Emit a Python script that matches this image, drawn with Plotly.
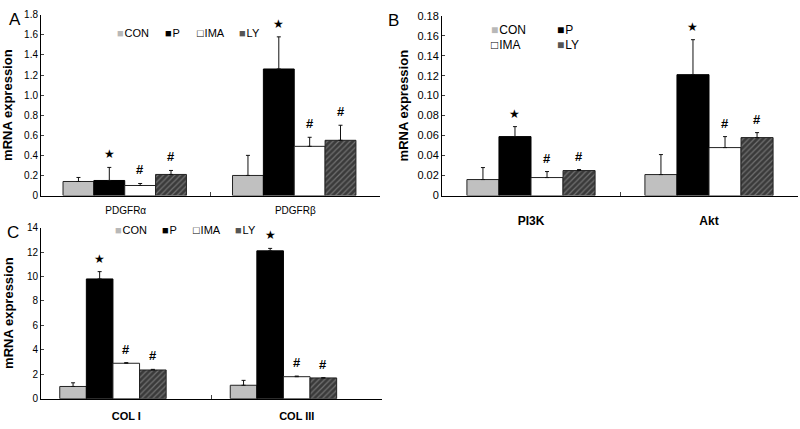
import plotly.graph_objects as go

series = ["CON", "P", "IMA", "LY"]

# Panel A
a_cats = ["PDGFRα", "PDGFRβ"]
a_vals = {"CON": [0.14, 0.20], "P": [0.15, 1.26], "IMA": [0.10, 0.49], "LY": [0.21, 0.55]}
a_top = {"CON": [0.18, 0.40], "P": [0.28, 1.58], "IMA": [0.12, 0.58], "LY": [0.25, 0.70]}
a_marks = {"CON": ["", ""], "P": ["★", "★"], "IMA": ["#", "#"], "LY": ["#", "#"]}
a_ticks = [0, 0.2, 0.4, 0.6, 0.8, 1.0, 1.2, 1.4, 1.6, 1.8]
a_ticktext = ["0", "0.2", "0.4", "0.6", "0.8", "1.0", "1.2", "1.4", "1.6", "1.8"]

# Panel B
b_cats = ["PI3K", "Akt"]
b_vals = {"CON": [0.016, 0.021], "P": [0.059, 0.121], "IMA": [0.018, 0.048], "LY": [0.025, 0.058]}
b_top = {"CON": [0.028, 0.041], "P": [0.069, 0.156], "IMA": [0.024, 0.059], "LY": [0.026, 0.063]}
b_marks = {"CON": ["", ""], "P": ["★", "★"], "IMA": ["#", "#"], "LY": ["#", "#"]}
b_ticks = [0, 0.02, 0.04, 0.06, 0.08, 0.10, 0.12, 0.14, 0.16, 0.18]
b_ticktext = ["0", "0.02", "0.04", "0.06", "0.08", "0.10", "0.12", "0.14", "0.16", "0.18"]

# Panel C
c_cats = ["COL I", "COL III"]
c_vals = {"CON": [1.0, 1.1], "P": [9.8, 12.1], "IMA": [2.9, 1.8], "LY": [2.35, 1.7]}
c_top = {"CON": [1.3, 1.5], "P": [10.4, 12.3], "IMA": [2.95, 1.85], "LY": [2.4, 1.72]}
c_marks = {"CON": ["", ""], "P": ["★", "★"], "IMA": ["#", "#"], "LY": ["#", "#"]}
c_ticks = [0, 2, 4, 6, 8, 10, 12, 14]
c_ticktext = ["0", "2", "4", "6", "8", "10", "12", "14"]

styles = {
    "CON": dict(color="#c0c0c0", line=dict(color="#222", width=1)),
    "P": dict(color="#000000", line=dict(color="#000", width=1)),
    "IMA": dict(color="#ffffff", line=dict(color="#222", width=1)),
    "LY": dict(color="#3c3c3c", line=dict(color="#222", width=1),
               pattern=dict(shape="/", bgcolor="#3a3a3a", fgcolor="#a8a8a8", size=4, solidity=0.3)),
}
legend_glyph = {"CON": ("■", "#b8b8b8"), "P": ("■", "#000"), "IMA": ("□", "#000"), "LY": ("■", "#555")}

FONT = "Liberation Sans, Arial, sans-serif"
fig = go.Figure()

panels = [
    dict(cats=a_cats, vals=a_vals, top=a_top, marks=a_marks, xa="x", ya="y",
         width=0.182, start=-0.37,
         legend_pos={"CON": (115, 28), "P": (163, 28), "IMA": (195, 28), "LY": (237, 28)}, lsize=11),
    dict(cats=b_cats, vals=b_vals, top=b_top, marks=b_marks, xa="x2", ya="y2",
         width=0.18, start=-0.36,
         legend_pos={"CON": (489, 25), "P": (555, 25), "IMA": (489, 40), "LY": (555, 40)}, lsize=12),
    dict(cats=c_cats, vals=c_vals, top=c_top, marks=c_marks, xa="x3", ya="y3",
         width=0.156, start=-0.39,
         legend_pos={"CON": (113, 230), "P": (160, 230), "IMA": (191, 230), "LY": (233, 230)}, lsize=11),
]

annotations = []
for p in panels:
    for i, s in enumerate(series):
        err = [t - v for t, v in zip(p["top"][s], p["vals"][s])]
        off = p["start"] + i * p["width"]
        fig.add_trace(go.Bar(
            x=p["cats"], y=p["vals"][s], name=s,
            xaxis=p["xa"], yaxis=p["ya"],
            width=p["width"], offset=off,
            marker=styles[s],
            error_y=dict(type="data", array=err, arrayminus=[0] * len(err), symmetric=False,
                         color="#111", thickness=1, width=2),
            showlegend=False,
        ))
        for j, m in enumerate(p["marks"][s]):
            if m:
                annotations.append(dict(
                    x=j + off + p["width"] / 2, y=p["top"][s][j], xref=p["xa"], yref=p["ya"],
                    text=m, showarrow=False, yanchor="bottom", yshift=4,
                    font=dict(family=FONT if m == "#" else "DejaVu Sans", size=13 if m == "#" else 12,
                              color="#000", weight="bold" if m == "#" else "normal"),
                ))
        # legend entry
        g, c = legend_glyph[s]
        lx, ly = p["legend_pos"][s]
        annotations.append(dict(
            x=lx / 800, y=1 - ly / 429, xref="paper", yref="paper", xanchor="left", yanchor="middle",
            showarrow=False, text=f'<span style="color:{c}">{g}</span>\u200a{s}',
            font=dict(family=FONT, size=p["lsize"], color="#000"),
        ))


def yaxis(domain, rng, tv, tt, standoff, tsize):
    return dict(domain=domain, range=rng, tickvals=tv, ticktext=tt, ticks="inside", ticklen=3,
                showline=True, linecolor="#000", linewidth=1, showgrid=False, zeroline=False,
                tickfont=dict(family=FONT, size=tsize, color="#000"),
                title=dict(text="mRNA expression",
                           font=dict(family=FONT, size=13, color="#000", weight="bold"),
                           standoff=standoff),
                fixedrange=True)


def xaxis(domain, anchor, size, bold, standoff):
    return dict(domain=domain, anchor=anchor, type="category", tickson="boundaries", ticks="inside",
                ticklen=4, showline=True, linecolor="#000", linewidth=1, showgrid=False,
                tickfont=dict(family=FONT, size=size, color="#000", weight="bold" if bold else "normal"),
                ticklabelstandoff=standoff, range=[-0.5, 1.5], fixedrange=True)


fig.update_layout(
    width=800, height=429, margin=dict(l=0, r=0, t=0, b=0),
    paper_bgcolor="white", plot_bgcolor="white",
    barmode="overlay", showlegend=False,
    xaxis=xaxis([41 / 800, 380 / 800], "y", 10, False, 5),
    yaxis=yaxis([1 - 195 / 429, 1 - 9 / 429], [0, 1.8], a_ticks, a_ticktext, 9, 10),
    xaxis2=xaxis([442 / 800, 798 / 800], "y2", 12, True, 14),
    yaxis2=dict(yaxis([1 - 195 / 429, 1 - 10 / 429], [0, 0.18], b_ticks, b_ticktext, 5, 11), anchor="x2"),
    xaxis3=xaxis([41 / 800, 382 / 800], "y3", 11, True, 7),
    yaxis3=dict(yaxis([1 - 404 / 429, 1 - 228 / 429], [0, 14], c_ticks, c_ticktext, 10, 10), anchor="x3"),
    annotations=annotations + [
        dict(text="A", x=7 / 800, y=1 - 2 / 429, xref="paper", yref="paper", xanchor="left", yanchor="top",
             showarrow=False, font=dict(family=FONT, size=17, color="#000")),
        dict(text="B", x=386 / 800, y=1 - 3 / 429, xref="paper", yref="paper", xanchor="left", yanchor="top",
             showarrow=False, font=dict(family=FONT, size=17, color="#000")),
        dict(text="C", x=5 / 800, y=1 - 221 / 429, xref="paper", yref="paper", xanchor="left", yanchor="top",
             showarrow=False, font=dict(family=FONT, size=17, color="#000")),
    ],
)

fig.write_html("out.html", config={"displayModeBar": False},
               post_script="document.body.style.margin='0';document.body.style.overflow='hidden';")
